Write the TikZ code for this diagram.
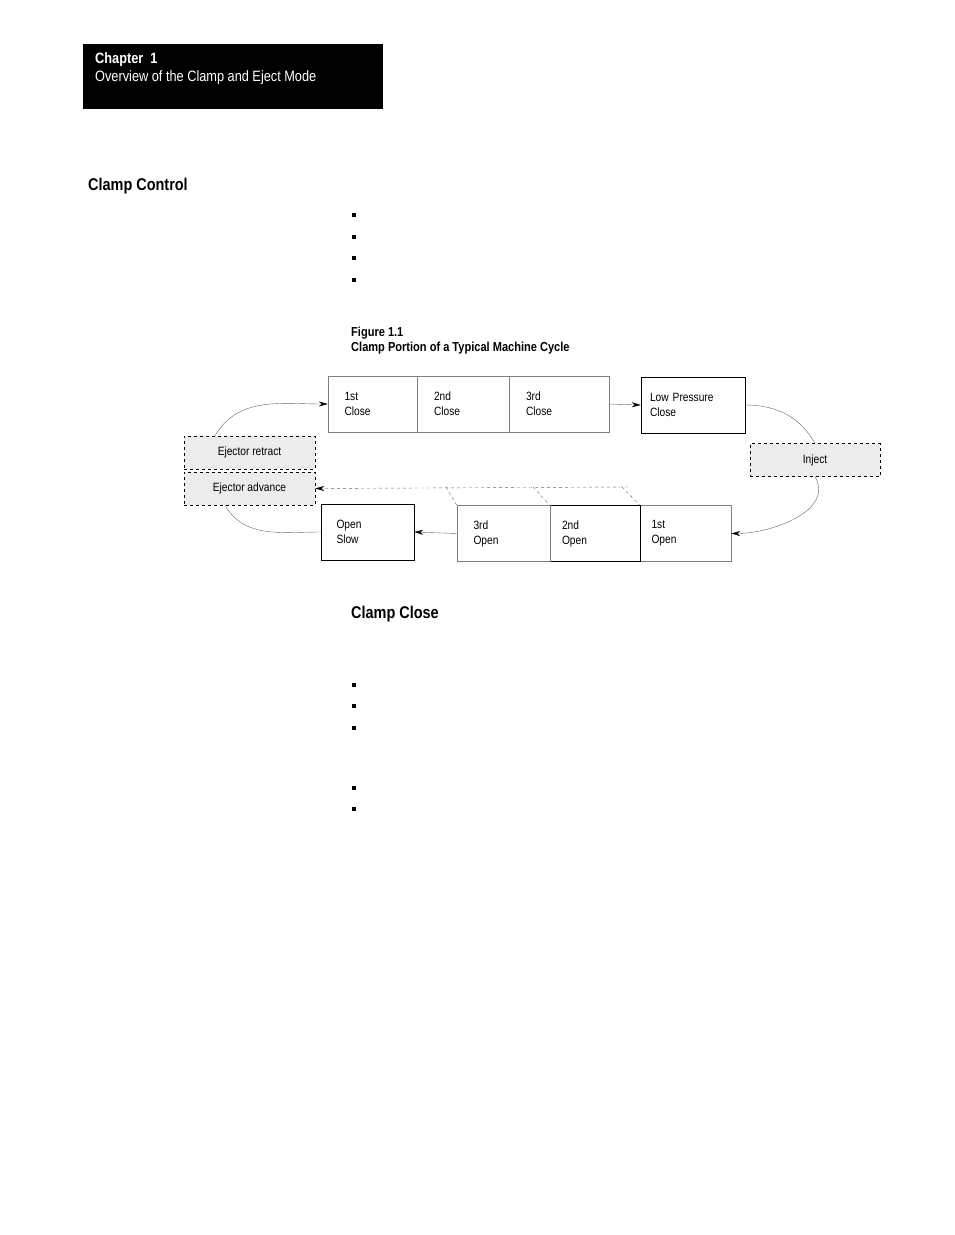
\documentclass[tikz,border=0pt]{standalone}
\usepackage{fontspec}
\setmainfont{Liberation Sans}
\usetikzlibrary{arrows.meta}
\tikzstyle{stepbox}=[draw=gray,minimum height=56pt,text width=#1,align=left,inner sep=0pt,font=\fontsize{12}{15}\selectfont\addfontfeature{FakeStretch=0.85}]
\tikzstyle{ejectbox}=[draw,dashed,fill=gray!15,minimum width=131pt,minimum height=33pt,font=\fontsize{12}{15}\selectfont\addfontfeature{FakeStretch=0.85}]
\tikzstyle{flow}=[gray!80!black,-{Stealth[length=9pt,width=5pt,black]}]
\tikzstyle{heading}=[anchor=west,inner sep=0pt,font=\fontsize{17}{20}\selectfont\bfseries\addfontfeature{FakeStretch=0.85}]
\tikzstyle{bullet}=[fill,minimum size=4pt,inner sep=0pt]
\begin{document}
\begin{tikzpicture}[x=1pt,y=-1pt]
\useasboundingbox (0,0) rectangle (954,1235);
% header
\fill (83,44) rectangle (383,109);
\node[anchor=west,white,inner sep=0pt,font=\fontsize{15}{18}\selectfont\addfontfeature{FakeStretch=0.85}] (chap) at (95,60) {\textbf{Chapter\ \ 1}};
\node[anchor=west,white,inner sep=0pt,font=\fontsize{15}{18}\selectfont\addfontfeature{FakeStretch=0.85}] (ovw) at (95,78) {Overview of the Clamp and Eject Mode};
\node[heading] (cc) at (88,186) {Clamp Control};
\foreach \y in {215,237,258,280,685,706,728,788,809}
  \node[bullet] at (354,\y) {};
\node[anchor=west,inner sep=0pt,font=\fontsize{13}{15}\selectfont\bfseries\addfontfeature{FakeStretch=0.85}] (fig) at (351,333) {Figure 1.1};
\node[anchor=west,inner sep=0pt,font=\fontsize{13}{15}\selectfont\bfseries\addfontfeature{FakeStretch=0.85}] (cap) at (351,348) {Clamp Portion of a Typical Machine Cycle};
% closing steps
\node[stepbox=56pt,minimum width=89pt] (c1) at (372.5,404) {1st\\Close};
\node[stepbox=58pt,minimum width=92pt] (c2) at (463,404) {2nd\\Close};
\node[stepbox=66pt,minimum width=100pt] (c3) at (559,404) {3rd\\Close};
\node[stepbox=86pt,draw=black,minimum width=104pt] (lpc) at (693,405) {Low Pressure\\Close};
\node[ejectbox,minimum width=130pt] (inj) at (815,460) {Inject};
% opening steps
\node[stepbox=68pt,minimum width=91pt] (o1) at (685.5,533.5) {1st\\Open};
\node[stepbox=66pt,draw=black,minimum width=90pt] (o2) at (595,533.5) {2nd\\Open};
\node[stepbox=60pt,minimum width=93pt] (o3) at (503.5,533.5) {3rd\\Open};
\node[stepbox=62pt,draw=black,minimum width=93pt] (os) at (367.5,532) {Open\\Slow};
\node[ejectbox] (er) at (249.5,452.5) {Ejector retract};
\node[ejectbox] (ea) at (249.5,488.5) {Ejector advance};
% flow
\draw[flow] (c3.east) -- (lpc.west);
\draw[flow] (o3.west) -- (os.west-|os.east);
\draw[gray!80!black] (lpc.east) to[out=0,in=120] (inj.north);
\draw[flow] (inj.south) to[out=-60,in=0] (o1.east);
\draw[gray!80!black] (os.west) to[out=180,in=-60] (ea.south-|225,0);
\draw[flow] (er.north-|215,0) to[out=60,in=180] (c1.west);
\draw[flow,dashed] (628,487) -- (ea.east);
\draw[gray!80!black,dashed] (446,487) -- (o3.north west) (533,487) -- (o2.north west) (622,487) -- (o1.north west);
\node[heading] (ccl) at (351,614) {Clamp Close};
\end{tikzpicture}
\end{document}
